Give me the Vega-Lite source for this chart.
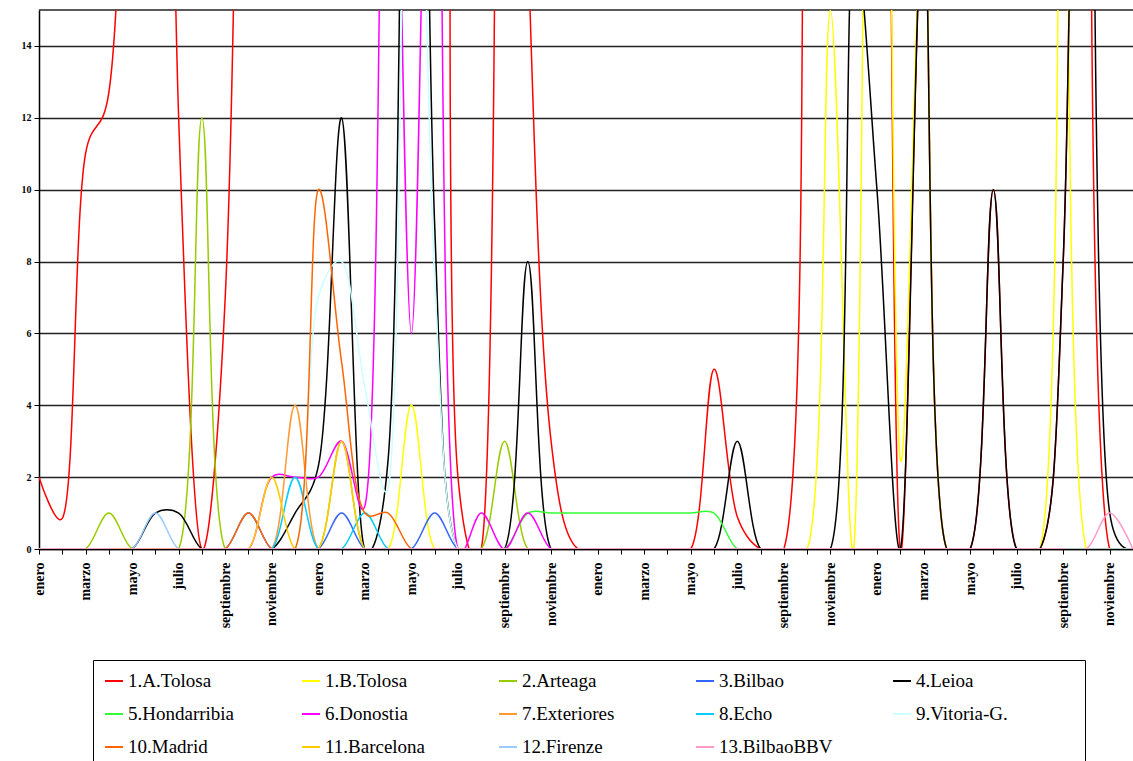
{
"$schema": "https://vega.github.io/schema/vega-lite/v6.json",
"width": 1094, "height": 539,
"autosize": {"type": "none"},
"padding": {"left": 39, "top": 10, "right": 0, "bottom": 212},
"background": "white",
"config": {"view": {"stroke": null}, "font": "Liberation Serif"},
"data": {"values": [
{"s":"1.A.Tolosa","m":0,"v":2},{"s":"1.A.Tolosa","m":1,"v":0.85},{"s":"1.A.Tolosa","m":2,"v":11},{"s":"1.A.Tolosa","m":3,"v":12.7},{"s":"1.A.Tolosa","m":4,"v":30},{"s":"1.A.Tolosa","m":5,"v":45},{"s":"1.A.Tolosa","m":6,"v":12},{"s":"1.A.Tolosa","m":7,"v":0},{"s":"1.A.Tolosa","m":8,"v":7},{"s":"1.A.Tolosa","m":9,"v":40},{"s":"1.A.Tolosa","m":10,"v":60},{"s":"1.A.Tolosa","m":11,"v":60},{"s":"1.A.Tolosa","m":12,"v":60},{"s":"1.A.Tolosa","m":13,"v":60},{"s":"1.A.Tolosa","m":14,"v":60},{"s":"1.A.Tolosa","m":15,"v":60},{"s":"1.A.Tolosa","m":16,"v":60},{"s":"1.A.Tolosa","m":17,"v":60},{"s":"1.A.Tolosa","m":18,"v":2},{"s":"1.A.Tolosa","m":19,"v":0},{"s":"1.A.Tolosa","m":20,"v":50},{"s":"1.A.Tolosa","m":21,"v":17},{"s":"1.A.Tolosa","m":22,"v":3},{"s":"1.A.Tolosa","m":23,"v":0.1},{"s":"1.A.Tolosa","m":24,"v":0},{"s":"1.A.Tolosa","m":25,"v":0},{"s":"1.A.Tolosa","m":26,"v":0},{"s":"1.A.Tolosa","m":27,"v":0},{"s":"1.A.Tolosa","m":28,"v":0},{"s":"1.A.Tolosa","m":29,"v":5},{"s":"1.A.Tolosa","m":30,"v":0.9},{"s":"1.A.Tolosa","m":31,"v":0},{"s":"1.A.Tolosa","m":32,"v":0},{"s":"1.A.Tolosa","m":33,"v":35},{"s":"1.A.Tolosa","m":34,"v":60},{"s":"1.A.Tolosa","m":35,"v":60},{"s":"1.A.Tolosa","m":36,"v":50},{"s":"1.A.Tolosa","m":37,"v":0},{"s":"1.A.Tolosa","m":38,"v":18},{"s":"1.A.Tolosa","m":39,"v":0},{"s":"1.A.Tolosa","m":40,"v":0},{"s":"1.A.Tolosa","m":41,"v":10},{"s":"1.A.Tolosa","m":42,"v":0},{"s":"1.A.Tolosa","m":43,"v":0},{"s":"1.A.Tolosa","m":44,"v":8},{"s":"1.A.Tolosa","m":45,"v":50},{"s":"1.A.Tolosa","m":46,"v":0},{"s":"1.A.Tolosa","m":47,"v":0},
{"s":"1.B.Tolosa","m":0,"v":0},{"s":"1.B.Tolosa","m":1,"v":0},{"s":"1.B.Tolosa","m":2,"v":0},{"s":"1.B.Tolosa","m":3,"v":0},{"s":"1.B.Tolosa","m":4,"v":0},{"s":"1.B.Tolosa","m":5,"v":0},{"s":"1.B.Tolosa","m":6,"v":0},{"s":"1.B.Tolosa","m":7,"v":0},{"s":"1.B.Tolosa","m":8,"v":0},{"s":"1.B.Tolosa","m":9,"v":0},{"s":"1.B.Tolosa","m":10,"v":0},{"s":"1.B.Tolosa","m":11,"v":0},{"s":"1.B.Tolosa","m":12,"v":0},{"s":"1.B.Tolosa","m":13,"v":0},{"s":"1.B.Tolosa","m":14,"v":0},{"s":"1.B.Tolosa","m":15,"v":0},{"s":"1.B.Tolosa","m":16,"v":4},{"s":"1.B.Tolosa","m":17,"v":0},{"s":"1.B.Tolosa","m":18,"v":0},{"s":"1.B.Tolosa","m":19,"v":0},{"s":"1.B.Tolosa","m":20,"v":0},{"s":"1.B.Tolosa","m":21,"v":0},{"s":"1.B.Tolosa","m":22,"v":0},{"s":"1.B.Tolosa","m":23,"v":0},{"s":"1.B.Tolosa","m":24,"v":0},{"s":"1.B.Tolosa","m":25,"v":0},{"s":"1.B.Tolosa","m":26,"v":0},{"s":"1.B.Tolosa","m":27,"v":0},{"s":"1.B.Tolosa","m":28,"v":0},{"s":"1.B.Tolosa","m":29,"v":0},{"s":"1.B.Tolosa","m":30,"v":0},{"s":"1.B.Tolosa","m":31,"v":0},{"s":"1.B.Tolosa","m":32,"v":0},{"s":"1.B.Tolosa","m":33,"v":0},{"s":"1.B.Tolosa","m":34,"v":15},{"s":"1.B.Tolosa","m":35,"v":0},{"s":"1.B.Tolosa","m":36,"v":50},{"s":"1.B.Tolosa","m":37,"v":2.5},{"s":"1.B.Tolosa","m":38,"v":18},{"s":"1.B.Tolosa","m":39,"v":0},{"s":"1.B.Tolosa","m":40,"v":0},{"s":"1.B.Tolosa","m":41,"v":0},{"s":"1.B.Tolosa","m":42,"v":0},{"s":"1.B.Tolosa","m":43,"v":0},{"s":"1.B.Tolosa","m":44,"v":40},{"s":"1.B.Tolosa","m":45,"v":0},{"s":"1.B.Tolosa","m":46,"v":0},{"s":"1.B.Tolosa","m":47,"v":0},
{"s":"2.Arteaga","m":0,"v":0},{"s":"2.Arteaga","m":1,"v":0},{"s":"2.Arteaga","m":2,"v":0},{"s":"2.Arteaga","m":3,"v":1},{"s":"2.Arteaga","m":4,"v":0},{"s":"2.Arteaga","m":5,"v":0},{"s":"2.Arteaga","m":6,"v":0},{"s":"2.Arteaga","m":7,"v":12},{"s":"2.Arteaga","m":8,"v":0},{"s":"2.Arteaga","m":9,"v":0},{"s":"2.Arteaga","m":10,"v":0},{"s":"2.Arteaga","m":11,"v":0},{"s":"2.Arteaga","m":12,"v":0},{"s":"2.Arteaga","m":13,"v":3},{"s":"2.Arteaga","m":14,"v":0},{"s":"2.Arteaga","m":15,"v":0},{"s":"2.Arteaga","m":16,"v":0},{"s":"2.Arteaga","m":17,"v":0},{"s":"2.Arteaga","m":18,"v":0},{"s":"2.Arteaga","m":19,"v":0},{"s":"2.Arteaga","m":20,"v":3},{"s":"2.Arteaga","m":21,"v":0},{"s":"2.Arteaga","m":22,"v":0},{"s":"2.Arteaga","m":23,"v":0},{"s":"2.Arteaga","m":24,"v":0},{"s":"2.Arteaga","m":25,"v":0},{"s":"2.Arteaga","m":26,"v":0},{"s":"2.Arteaga","m":27,"v":0},{"s":"2.Arteaga","m":28,"v":0},{"s":"2.Arteaga","m":29,"v":0},{"s":"2.Arteaga","m":30,"v":0},{"s":"2.Arteaga","m":31,"v":0},{"s":"2.Arteaga","m":32,"v":0},{"s":"2.Arteaga","m":33,"v":0},{"s":"2.Arteaga","m":34,"v":0},{"s":"2.Arteaga","m":35,"v":0},{"s":"2.Arteaga","m":36,"v":0},{"s":"2.Arteaga","m":37,"v":0},{"s":"2.Arteaga","m":38,"v":0},{"s":"2.Arteaga","m":39,"v":0},{"s":"2.Arteaga","m":40,"v":0},{"s":"2.Arteaga","m":41,"v":0},{"s":"2.Arteaga","m":42,"v":0},{"s":"2.Arteaga","m":43,"v":0},{"s":"2.Arteaga","m":44,"v":0},{"s":"2.Arteaga","m":45,"v":0},{"s":"2.Arteaga","m":46,"v":0},{"s":"2.Arteaga","m":47,"v":0},
{"s":"3.Bilbao","m":0,"v":0},{"s":"3.Bilbao","m":1,"v":0},{"s":"3.Bilbao","m":2,"v":0},{"s":"3.Bilbao","m":3,"v":0},{"s":"3.Bilbao","m":4,"v":0},{"s":"3.Bilbao","m":5,"v":0},{"s":"3.Bilbao","m":6,"v":0},{"s":"3.Bilbao","m":7,"v":0},{"s":"3.Bilbao","m":8,"v":0},{"s":"3.Bilbao","m":9,"v":1},{"s":"3.Bilbao","m":10,"v":0},{"s":"3.Bilbao","m":11,"v":0},{"s":"3.Bilbao","m":12,"v":0},{"s":"3.Bilbao","m":13,"v":1},{"s":"3.Bilbao","m":14,"v":0},{"s":"3.Bilbao","m":15,"v":0},{"s":"3.Bilbao","m":16,"v":0},{"s":"3.Bilbao","m":17,"v":1},{"s":"3.Bilbao","m":18,"v":0},{"s":"3.Bilbao","m":19,"v":0},{"s":"3.Bilbao","m":20,"v":0},{"s":"3.Bilbao","m":21,"v":0},{"s":"3.Bilbao","m":22,"v":0},{"s":"3.Bilbao","m":23,"v":0},{"s":"3.Bilbao","m":24,"v":0},{"s":"3.Bilbao","m":25,"v":0},{"s":"3.Bilbao","m":26,"v":0},{"s":"3.Bilbao","m":27,"v":0},{"s":"3.Bilbao","m":28,"v":0},{"s":"3.Bilbao","m":29,"v":0},{"s":"3.Bilbao","m":30,"v":0},{"s":"3.Bilbao","m":31,"v":0},{"s":"3.Bilbao","m":32,"v":0},{"s":"3.Bilbao","m":33,"v":0},{"s":"3.Bilbao","m":34,"v":0},{"s":"3.Bilbao","m":35,"v":0},{"s":"3.Bilbao","m":36,"v":0},{"s":"3.Bilbao","m":37,"v":0},{"s":"3.Bilbao","m":38,"v":0},{"s":"3.Bilbao","m":39,"v":0},{"s":"3.Bilbao","m":40,"v":0},{"s":"3.Bilbao","m":41,"v":0},{"s":"3.Bilbao","m":42,"v":0},{"s":"3.Bilbao","m":43,"v":0},{"s":"3.Bilbao","m":44,"v":0},{"s":"3.Bilbao","m":45,"v":0},{"s":"3.Bilbao","m":46,"v":0},{"s":"3.Bilbao","m":47,"v":0},
{"s":"4.Leioa","m":0,"v":0},{"s":"4.Leioa","m":1,"v":0},{"s":"4.Leioa","m":2,"v":0},{"s":"4.Leioa","m":3,"v":0},{"s":"4.Leioa","m":4,"v":0},{"s":"4.Leioa","m":5,"v":1},{"s":"4.Leioa","m":6,"v":1},{"s":"4.Leioa","m":7,"v":0},{"s":"4.Leioa","m":8,"v":0},{"s":"4.Leioa","m":9,"v":0},{"s":"4.Leioa","m":10,"v":0},{"s":"4.Leioa","m":11,"v":1},{"s":"4.Leioa","m":12,"v":2.3},{"s":"4.Leioa","m":13,"v":12},{"s":"4.Leioa","m":14,"v":0},{"s":"4.Leioa","m":15,"v":2.5},{"s":"4.Leioa","m":16,"v":50},{"s":"4.Leioa","m":17,"v":9},{"s":"4.Leioa","m":18,"v":0},{"s":"4.Leioa","m":19,"v":0},{"s":"4.Leioa","m":20,"v":0},{"s":"4.Leioa","m":21,"v":8},{"s":"4.Leioa","m":22,"v":0},{"s":"4.Leioa","m":23,"v":0},{"s":"4.Leioa","m":24,"v":0},{"s":"4.Leioa","m":25,"v":0},{"s":"4.Leioa","m":26,"v":0},{"s":"4.Leioa","m":27,"v":0},{"s":"4.Leioa","m":28,"v":0},{"s":"4.Leioa","m":29,"v":0},{"s":"4.Leioa","m":30,"v":3},{"s":"4.Leioa","m":31,"v":0},{"s":"4.Leioa","m":32,"v":0},{"s":"4.Leioa","m":33,"v":0},{"s":"4.Leioa","m":34,"v":0},{"s":"4.Leioa","m":35,"v":17},{"s":"4.Leioa","m":36,"v":10},{"s":"4.Leioa","m":37,"v":0},{"s":"4.Leioa","m":38,"v":18},{"s":"4.Leioa","m":39,"v":0},{"s":"4.Leioa","m":40,"v":0},{"s":"4.Leioa","m":41,"v":10},{"s":"4.Leioa","m":42,"v":0},{"s":"4.Leioa","m":43,"v":0},{"s":"4.Leioa","m":44,"v":8},{"s":"4.Leioa","m":45,"v":50},{"s":"4.Leioa","m":46,"v":1},{"s":"4.Leioa","m":47,"v":0},
{"s":"5.Hondarribia","m":0,"v":0},{"s":"5.Hondarribia","m":1,"v":0},{"s":"5.Hondarribia","m":2,"v":0},{"s":"5.Hondarribia","m":3,"v":0},{"s":"5.Hondarribia","m":4,"v":0},{"s":"5.Hondarribia","m":5,"v":0},{"s":"5.Hondarribia","m":6,"v":0},{"s":"5.Hondarribia","m":7,"v":0},{"s":"5.Hondarribia","m":8,"v":0},{"s":"5.Hondarribia","m":9,"v":0},{"s":"5.Hondarribia","m":10,"v":0},{"s":"5.Hondarribia","m":11,"v":0},{"s":"5.Hondarribia","m":12,"v":0},{"s":"5.Hondarribia","m":13,"v":0},{"s":"5.Hondarribia","m":14,"v":0},{"s":"5.Hondarribia","m":15,"v":0},{"s":"5.Hondarribia","m":16,"v":0},{"s":"5.Hondarribia","m":17,"v":0},{"s":"5.Hondarribia","m":18,"v":0},{"s":"5.Hondarribia","m":19,"v":0},{"s":"5.Hondarribia","m":20,"v":0},{"s":"5.Hondarribia","m":21,"v":1},{"s":"5.Hondarribia","m":22,"v":1},{"s":"5.Hondarribia","m":23,"v":1},{"s":"5.Hondarribia","m":24,"v":1},{"s":"5.Hondarribia","m":25,"v":1},{"s":"5.Hondarribia","m":26,"v":1},{"s":"5.Hondarribia","m":27,"v":1},{"s":"5.Hondarribia","m":28,"v":1},{"s":"5.Hondarribia","m":29,"v":1},{"s":"5.Hondarribia","m":30,"v":0},{"s":"5.Hondarribia","m":31,"v":0},{"s":"5.Hondarribia","m":32,"v":0},{"s":"5.Hondarribia","m":33,"v":0},{"s":"5.Hondarribia","m":34,"v":0},{"s":"5.Hondarribia","m":35,"v":0},{"s":"5.Hondarribia","m":36,"v":0},{"s":"5.Hondarribia","m":37,"v":0},{"s":"5.Hondarribia","m":38,"v":0},{"s":"5.Hondarribia","m":39,"v":0},{"s":"5.Hondarribia","m":40,"v":0},{"s":"5.Hondarribia","m":41,"v":0},{"s":"5.Hondarribia","m":42,"v":0},{"s":"5.Hondarribia","m":43,"v":0},{"s":"5.Hondarribia","m":44,"v":0},{"s":"5.Hondarribia","m":45,"v":0},{"s":"5.Hondarribia","m":46,"v":0},{"s":"5.Hondarribia","m":47,"v":0},
{"s":"6.Donostia","m":0,"v":0},{"s":"6.Donostia","m":1,"v":0},{"s":"6.Donostia","m":2,"v":0},{"s":"6.Donostia","m":3,"v":0},{"s":"6.Donostia","m":4,"v":0},{"s":"6.Donostia","m":5,"v":0},{"s":"6.Donostia","m":6,"v":0},{"s":"6.Donostia","m":7,"v":0},{"s":"6.Donostia","m":8,"v":0},{"s":"6.Donostia","m":9,"v":0},{"s":"6.Donostia","m":10,"v":2},{"s":"6.Donostia","m":11,"v":2},{"s":"6.Donostia","m":12,"v":2},{"s":"6.Donostia","m":13,"v":3},{"s":"6.Donostia","m":14,"v":1.2},{"s":"6.Donostia","m":15,"v":30},{"s":"6.Donostia","m":16,"v":6},{"s":"6.Donostia","m":17,"v":30},{"s":"6.Donostia","m":18,"v":0},{"s":"6.Donostia","m":19,"v":1},{"s":"6.Donostia","m":20,"v":0},{"s":"6.Donostia","m":21,"v":1},{"s":"6.Donostia","m":22,"v":0},{"s":"6.Donostia","m":23,"v":0},{"s":"6.Donostia","m":24,"v":0},{"s":"6.Donostia","m":25,"v":0},{"s":"6.Donostia","m":26,"v":0},{"s":"6.Donostia","m":27,"v":0},{"s":"6.Donostia","m":28,"v":0},{"s":"6.Donostia","m":29,"v":0},{"s":"6.Donostia","m":30,"v":0},{"s":"6.Donostia","m":31,"v":0},{"s":"6.Donostia","m":32,"v":0},{"s":"6.Donostia","m":33,"v":0},{"s":"6.Donostia","m":34,"v":0},{"s":"6.Donostia","m":35,"v":0},{"s":"6.Donostia","m":36,"v":0},{"s":"6.Donostia","m":37,"v":0},{"s":"6.Donostia","m":38,"v":0},{"s":"6.Donostia","m":39,"v":0},{"s":"6.Donostia","m":40,"v":0},{"s":"6.Donostia","m":41,"v":0},{"s":"6.Donostia","m":42,"v":0},{"s":"6.Donostia","m":43,"v":0},{"s":"6.Donostia","m":44,"v":0},{"s":"6.Donostia","m":45,"v":0},{"s":"6.Donostia","m":46,"v":0},{"s":"6.Donostia","m":47,"v":0},
{"s":"7.Exteriores","m":0,"v":0},{"s":"7.Exteriores","m":1,"v":0},{"s":"7.Exteriores","m":2,"v":0},{"s":"7.Exteriores","m":3,"v":0},{"s":"7.Exteriores","m":4,"v":0},{"s":"7.Exteriores","m":5,"v":0},{"s":"7.Exteriores","m":6,"v":0},{"s":"7.Exteriores","m":7,"v":0},{"s":"7.Exteriores","m":8,"v":0},{"s":"7.Exteriores","m":9,"v":0},{"s":"7.Exteriores","m":10,"v":0},{"s":"7.Exteriores","m":11,"v":4},{"s":"7.Exteriores","m":12,"v":0},{"s":"7.Exteriores","m":13,"v":0},{"s":"7.Exteriores","m":14,"v":0},{"s":"7.Exteriores","m":15,"v":0},{"s":"7.Exteriores","m":16,"v":0},{"s":"7.Exteriores","m":17,"v":0},{"s":"7.Exteriores","m":18,"v":0},{"s":"7.Exteriores","m":19,"v":0},{"s":"7.Exteriores","m":20,"v":0},{"s":"7.Exteriores","m":21,"v":0},{"s":"7.Exteriores","m":22,"v":0},{"s":"7.Exteriores","m":23,"v":0},{"s":"7.Exteriores","m":24,"v":0},{"s":"7.Exteriores","m":25,"v":0},{"s":"7.Exteriores","m":26,"v":0},{"s":"7.Exteriores","m":27,"v":0},{"s":"7.Exteriores","m":28,"v":0},{"s":"7.Exteriores","m":29,"v":0},{"s":"7.Exteriores","m":30,"v":0},{"s":"7.Exteriores","m":31,"v":0},{"s":"7.Exteriores","m":32,"v":0},{"s":"7.Exteriores","m":33,"v":0},{"s":"7.Exteriores","m":34,"v":0},{"s":"7.Exteriores","m":35,"v":0},{"s":"7.Exteriores","m":36,"v":0},{"s":"7.Exteriores","m":37,"v":0},{"s":"7.Exteriores","m":38,"v":0},{"s":"7.Exteriores","m":39,"v":0},{"s":"7.Exteriores","m":40,"v":0},{"s":"7.Exteriores","m":41,"v":0},{"s":"7.Exteriores","m":42,"v":0},{"s":"7.Exteriores","m":43,"v":0},{"s":"7.Exteriores","m":44,"v":0},{"s":"7.Exteriores","m":45,"v":0},{"s":"7.Exteriores","m":46,"v":0},{"s":"7.Exteriores","m":47,"v":0},
{"s":"8.Echo","m":0,"v":0},{"s":"8.Echo","m":1,"v":0},{"s":"8.Echo","m":2,"v":0},{"s":"8.Echo","m":3,"v":0},{"s":"8.Echo","m":4,"v":0},{"s":"8.Echo","m":5,"v":0},{"s":"8.Echo","m":6,"v":0},{"s":"8.Echo","m":7,"v":0},{"s":"8.Echo","m":8,"v":0},{"s":"8.Echo","m":9,"v":0},{"s":"8.Echo","m":10,"v":0},{"s":"8.Echo","m":11,"v":2},{"s":"8.Echo","m":12,"v":0},{"s":"8.Echo","m":13,"v":0},{"s":"8.Echo","m":14,"v":1},{"s":"8.Echo","m":15,"v":0},{"s":"8.Echo","m":16,"v":0},{"s":"8.Echo","m":17,"v":0},{"s":"8.Echo","m":18,"v":0},{"s":"8.Echo","m":19,"v":0},{"s":"8.Echo","m":20,"v":0},{"s":"8.Echo","m":21,"v":0},{"s":"8.Echo","m":22,"v":0},{"s":"8.Echo","m":23,"v":0},{"s":"8.Echo","m":24,"v":0},{"s":"8.Echo","m":25,"v":0},{"s":"8.Echo","m":26,"v":0},{"s":"8.Echo","m":27,"v":0},{"s":"8.Echo","m":28,"v":0},{"s":"8.Echo","m":29,"v":0},{"s":"8.Echo","m":30,"v":0},{"s":"8.Echo","m":31,"v":0},{"s":"8.Echo","m":32,"v":0},{"s":"8.Echo","m":33,"v":0},{"s":"8.Echo","m":34,"v":0},{"s":"8.Echo","m":35,"v":0},{"s":"8.Echo","m":36,"v":0},{"s":"8.Echo","m":37,"v":0},{"s":"8.Echo","m":38,"v":0},{"s":"8.Echo","m":39,"v":0},{"s":"8.Echo","m":40,"v":0},{"s":"8.Echo","m":41,"v":0},{"s":"8.Echo","m":42,"v":0},{"s":"8.Echo","m":43,"v":0},{"s":"8.Echo","m":44,"v":0},{"s":"8.Echo","m":45,"v":0},{"s":"8.Echo","m":46,"v":0},{"s":"8.Echo","m":47,"v":0},
{"s":"9.Vitoria-G.","m":0,"v":0},{"s":"9.Vitoria-G.","m":1,"v":0},{"s":"9.Vitoria-G.","m":2,"v":0},{"s":"9.Vitoria-G.","m":3,"v":0},{"s":"9.Vitoria-G.","m":4,"v":0},{"s":"9.Vitoria-G.","m":5,"v":0},{"s":"9.Vitoria-G.","m":6,"v":0},{"s":"9.Vitoria-G.","m":7,"v":0},{"s":"9.Vitoria-G.","m":8,"v":0},{"s":"9.Vitoria-G.","m":9,"v":0},{"s":"9.Vitoria-G.","m":10,"v":0},{"s":"9.Vitoria-G.","m":11,"v":0},{"s":"9.Vitoria-G.","m":12,"v":7},{"s":"9.Vitoria-G.","m":13,"v":8},{"s":"9.Vitoria-G.","m":14,"v":4.5},{"s":"9.Vitoria-G.","m":15,"v":1.7},{"s":"9.Vitoria-G.","m":16,"v":30},{"s":"9.Vitoria-G.","m":17,"v":7.5},{"s":"9.Vitoria-G.","m":18,"v":0},{"s":"9.Vitoria-G.","m":19,"v":0},{"s":"9.Vitoria-G.","m":20,"v":0},{"s":"9.Vitoria-G.","m":21,"v":0},{"s":"9.Vitoria-G.","m":22,"v":0},{"s":"9.Vitoria-G.","m":23,"v":0},{"s":"9.Vitoria-G.","m":24,"v":0},{"s":"9.Vitoria-G.","m":25,"v":0},{"s":"9.Vitoria-G.","m":26,"v":0},{"s":"9.Vitoria-G.","m":27,"v":0},{"s":"9.Vitoria-G.","m":28,"v":0},{"s":"9.Vitoria-G.","m":29,"v":0},{"s":"9.Vitoria-G.","m":30,"v":0},{"s":"9.Vitoria-G.","m":31,"v":0},{"s":"9.Vitoria-G.","m":32,"v":0},{"s":"9.Vitoria-G.","m":33,"v":0},{"s":"9.Vitoria-G.","m":34,"v":0},{"s":"9.Vitoria-G.","m":35,"v":0},{"s":"9.Vitoria-G.","m":36,"v":0},{"s":"9.Vitoria-G.","m":37,"v":0},{"s":"9.Vitoria-G.","m":38,"v":0},{"s":"9.Vitoria-G.","m":39,"v":0},{"s":"9.Vitoria-G.","m":40,"v":0},{"s":"9.Vitoria-G.","m":41,"v":0},{"s":"9.Vitoria-G.","m":42,"v":0},{"s":"9.Vitoria-G.","m":43,"v":0},{"s":"9.Vitoria-G.","m":44,"v":0},{"s":"9.Vitoria-G.","m":45,"v":0},{"s":"9.Vitoria-G.","m":46,"v":0},{"s":"9.Vitoria-G.","m":47,"v":0},
{"s":"10.Madrid","m":0,"v":0},{"s":"10.Madrid","m":1,"v":0},{"s":"10.Madrid","m":2,"v":0},{"s":"10.Madrid","m":3,"v":0},{"s":"10.Madrid","m":4,"v":0},{"s":"10.Madrid","m":5,"v":0},{"s":"10.Madrid","m":6,"v":0},{"s":"10.Madrid","m":7,"v":0},{"s":"10.Madrid","m":8,"v":0},{"s":"10.Madrid","m":9,"v":1},{"s":"10.Madrid","m":10,"v":0},{"s":"10.Madrid","m":11,"v":0},{"s":"10.Madrid","m":12,"v":10},{"s":"10.Madrid","m":13,"v":5.2},{"s":"10.Madrid","m":14,"v":1},{"s":"10.Madrid","m":15,"v":1},{"s":"10.Madrid","m":16,"v":0},{"s":"10.Madrid","m":17,"v":0},{"s":"10.Madrid","m":18,"v":0},{"s":"10.Madrid","m":19,"v":0},{"s":"10.Madrid","m":20,"v":0},{"s":"10.Madrid","m":21,"v":0},{"s":"10.Madrid","m":22,"v":0},{"s":"10.Madrid","m":23,"v":0},{"s":"10.Madrid","m":24,"v":0},{"s":"10.Madrid","m":25,"v":0},{"s":"10.Madrid","m":26,"v":0},{"s":"10.Madrid","m":27,"v":0},{"s":"10.Madrid","m":28,"v":0},{"s":"10.Madrid","m":29,"v":0},{"s":"10.Madrid","m":30,"v":0},{"s":"10.Madrid","m":31,"v":0},{"s":"10.Madrid","m":32,"v":0},{"s":"10.Madrid","m":33,"v":0},{"s":"10.Madrid","m":34,"v":0},{"s":"10.Madrid","m":35,"v":0},{"s":"10.Madrid","m":36,"v":0},{"s":"10.Madrid","m":37,"v":0},{"s":"10.Madrid","m":38,"v":0},{"s":"10.Madrid","m":39,"v":0},{"s":"10.Madrid","m":40,"v":0},{"s":"10.Madrid","m":41,"v":0},{"s":"10.Madrid","m":42,"v":0},{"s":"10.Madrid","m":43,"v":0},{"s":"10.Madrid","m":44,"v":0},{"s":"10.Madrid","m":45,"v":0},{"s":"10.Madrid","m":46,"v":0},{"s":"10.Madrid","m":47,"v":0},
{"s":"11.Barcelona","m":0,"v":0},{"s":"11.Barcelona","m":1,"v":0},{"s":"11.Barcelona","m":2,"v":0},{"s":"11.Barcelona","m":3,"v":0},{"s":"11.Barcelona","m":4,"v":0},{"s":"11.Barcelona","m":5,"v":0},{"s":"11.Barcelona","m":6,"v":0},{"s":"11.Barcelona","m":7,"v":0},{"s":"11.Barcelona","m":8,"v":0},{"s":"11.Barcelona","m":9,"v":0},{"s":"11.Barcelona","m":10,"v":2},{"s":"11.Barcelona","m":11,"v":0},{"s":"11.Barcelona","m":12,"v":0},{"s":"11.Barcelona","m":13,"v":3},{"s":"11.Barcelona","m":14,"v":0},{"s":"11.Barcelona","m":15,"v":0},{"s":"11.Barcelona","m":16,"v":0},{"s":"11.Barcelona","m":17,"v":0},{"s":"11.Barcelona","m":18,"v":0},{"s":"11.Barcelona","m":19,"v":0},{"s":"11.Barcelona","m":20,"v":0},{"s":"11.Barcelona","m":21,"v":0},{"s":"11.Barcelona","m":22,"v":0},{"s":"11.Barcelona","m":23,"v":0},{"s":"11.Barcelona","m":24,"v":0},{"s":"11.Barcelona","m":25,"v":0},{"s":"11.Barcelona","m":26,"v":0},{"s":"11.Barcelona","m":27,"v":0},{"s":"11.Barcelona","m":28,"v":0},{"s":"11.Barcelona","m":29,"v":0},{"s":"11.Barcelona","m":30,"v":0},{"s":"11.Barcelona","m":31,"v":0},{"s":"11.Barcelona","m":32,"v":0},{"s":"11.Barcelona","m":33,"v":0},{"s":"11.Barcelona","m":34,"v":0},{"s":"11.Barcelona","m":35,"v":0},{"s":"11.Barcelona","m":36,"v":0},{"s":"11.Barcelona","m":37,"v":0},{"s":"11.Barcelona","m":38,"v":0},{"s":"11.Barcelona","m":39,"v":0},{"s":"11.Barcelona","m":40,"v":0},{"s":"11.Barcelona","m":41,"v":0},{"s":"11.Barcelona","m":42,"v":0},{"s":"11.Barcelona","m":43,"v":0},{"s":"11.Barcelona","m":44,"v":0},{"s":"11.Barcelona","m":45,"v":0},{"s":"11.Barcelona","m":46,"v":0},{"s":"11.Barcelona","m":47,"v":0},
{"s":"12.Firenze","m":0,"v":0},{"s":"12.Firenze","m":1,"v":0},{"s":"12.Firenze","m":2,"v":0},{"s":"12.Firenze","m":3,"v":0},{"s":"12.Firenze","m":4,"v":0},{"s":"12.Firenze","m":5,"v":1},{"s":"12.Firenze","m":6,"v":0},{"s":"12.Firenze","m":7,"v":0},{"s":"12.Firenze","m":8,"v":0},{"s":"12.Firenze","m":9,"v":0},{"s":"12.Firenze","m":10,"v":0},{"s":"12.Firenze","m":11,"v":0},{"s":"12.Firenze","m":12,"v":0},{"s":"12.Firenze","m":13,"v":0},{"s":"12.Firenze","m":14,"v":0},{"s":"12.Firenze","m":15,"v":0},{"s":"12.Firenze","m":16,"v":0},{"s":"12.Firenze","m":17,"v":0},{"s":"12.Firenze","m":18,"v":0},{"s":"12.Firenze","m":19,"v":0},{"s":"12.Firenze","m":20,"v":0},{"s":"12.Firenze","m":21,"v":0},{"s":"12.Firenze","m":22,"v":0},{"s":"12.Firenze","m":23,"v":0},{"s":"12.Firenze","m":24,"v":0},{"s":"12.Firenze","m":25,"v":0},{"s":"12.Firenze","m":26,"v":0},{"s":"12.Firenze","m":27,"v":0},{"s":"12.Firenze","m":28,"v":0},{"s":"12.Firenze","m":29,"v":0},{"s":"12.Firenze","m":30,"v":0},{"s":"12.Firenze","m":31,"v":0},{"s":"12.Firenze","m":32,"v":0},{"s":"12.Firenze","m":33,"v":0},{"s":"12.Firenze","m":34,"v":0},{"s":"12.Firenze","m":35,"v":0},{"s":"12.Firenze","m":36,"v":0},{"s":"12.Firenze","m":37,"v":0},{"s":"12.Firenze","m":38,"v":0},{"s":"12.Firenze","m":39,"v":0},{"s":"12.Firenze","m":40,"v":0},{"s":"12.Firenze","m":41,"v":0},{"s":"12.Firenze","m":42,"v":0},{"s":"12.Firenze","m":43,"v":0},{"s":"12.Firenze","m":44,"v":0},{"s":"12.Firenze","m":45,"v":0},{"s":"12.Firenze","m":46,"v":0},{"s":"12.Firenze","m":47,"v":0},
{"s":"13.BilbaoBBV","m":0,"v":0},{"s":"13.BilbaoBBV","m":1,"v":0},{"s":"13.BilbaoBBV","m":2,"v":0},{"s":"13.BilbaoBBV","m":3,"v":0},{"s":"13.BilbaoBBV","m":4,"v":0},{"s":"13.BilbaoBBV","m":5,"v":0},{"s":"13.BilbaoBBV","m":6,"v":0},{"s":"13.BilbaoBBV","m":7,"v":0},{"s":"13.BilbaoBBV","m":8,"v":0},{"s":"13.BilbaoBBV","m":9,"v":0},{"s":"13.BilbaoBBV","m":10,"v":0},{"s":"13.BilbaoBBV","m":11,"v":0},{"s":"13.BilbaoBBV","m":12,"v":0},{"s":"13.BilbaoBBV","m":13,"v":0},{"s":"13.BilbaoBBV","m":14,"v":0},{"s":"13.BilbaoBBV","m":15,"v":0},{"s":"13.BilbaoBBV","m":16,"v":0},{"s":"13.BilbaoBBV","m":17,"v":0},{"s":"13.BilbaoBBV","m":18,"v":0},{"s":"13.BilbaoBBV","m":19,"v":0},{"s":"13.BilbaoBBV","m":20,"v":0},{"s":"13.BilbaoBBV","m":21,"v":0},{"s":"13.BilbaoBBV","m":22,"v":0},{"s":"13.BilbaoBBV","m":23,"v":0},{"s":"13.BilbaoBBV","m":24,"v":0},{"s":"13.BilbaoBBV","m":25,"v":0},{"s":"13.BilbaoBBV","m":26,"v":0},{"s":"13.BilbaoBBV","m":27,"v":0},{"s":"13.BilbaoBBV","m":28,"v":0},{"s":"13.BilbaoBBV","m":29,"v":0},{"s":"13.BilbaoBBV","m":30,"v":0},{"s":"13.BilbaoBBV","m":31,"v":0},{"s":"13.BilbaoBBV","m":32,"v":0},{"s":"13.BilbaoBBV","m":33,"v":0},{"s":"13.BilbaoBBV","m":34,"v":0},{"s":"13.BilbaoBBV","m":35,"v":0},{"s":"13.BilbaoBBV","m":36,"v":0},{"s":"13.BilbaoBBV","m":37,"v":0},{"s":"13.BilbaoBBV","m":38,"v":0},{"s":"13.BilbaoBBV","m":39,"v":0},{"s":"13.BilbaoBBV","m":40,"v":0},{"s":"13.BilbaoBBV","m":41,"v":0},{"s":"13.BilbaoBBV","m":42,"v":0},{"s":"13.BilbaoBBV","m":43,"v":0},{"s":"13.BilbaoBBV","m":44,"v":0},{"s":"13.BilbaoBBV","m":45,"v":0},{"s":"13.BilbaoBBV","m":46,"v":1},{"s":"13.BilbaoBBV","m":47,"v":0}
]},
"layer": [
{
"data": {"values": [{}]},
"mark": {"type": "rule", "color": "#222", "strokeWidth": 1.5},
"encoding": {"y": {"datum": 15, "type": "quantitative"}}
},
{
"mark": {"type": "line", "interpolate": "catmull-rom", "tension": 0.35, "strokeWidth": 1.5, "clip": true},
"encoding": {
"x": {"field": "m", "type": "quantitative",
 "scale": {"domain": [0, 47], "nice": false, "zero": false},
 "axis": {"title": null, "grid": false, "values": [0,1,2,3,4,5,6,7,8,9,10,11,12,13,14,15,16,17,18,19,20,21,22,23,24,25,26,27,28,29,30,31,32,33,34,35,36,37,38,39,40,41,42,43,44,45,46,47],
  "labelExpr": "datum.value % 2 == 0 ? ['enero','febrero','marzo','abril','mayo','junio','julio','agosto','septiembre','octubre','noviembre','diciembre'][datum.value % 12] : ''",
  "labelAngle": -90, "labelOverlap": false, "labelBound": false, "labelFlush": false,
  "labelFont": "Liberation Serif", "labelFontWeight": "bold", "labelFontSize": 14, "labelColor": "#000",
  "labelPadding": 8, "tickSize": 5, "tickColor": "#000", "domainColor": "#000", "domainWidth": 1.5}},
"y": {"field": "v", "type": "quantitative",
 "scale": {"domain": [0, 15], "nice": false, "zero": true},
 "axis": {"title": null, "values": [0,2,4,6,8,10,12,14], "grid": true, "gridColor": "#222", "gridWidth": 1.5,
  "domainColor": "#000", "domainWidth": 1.5, "tickColor": "#000", "tickSize": 5,
  "labelFont": "Liberation Serif", "labelFontWeight": "bold", "labelFontSize": 10, "labelColor": "#000", "labelPadding": 3}},
"color": {"field": "s", "type": "nominal",
 "scale": {"domain": ["1.A.Tolosa","1.B.Tolosa","2.Arteaga","3.Bilbao","4.Leioa","5.Hondarribia","6.Donostia","7.Exteriores","8.Echo","9.Vitoria-G.","10.Madrid","11.Barcelona","12.Firenze","13.BilbaoBBV"],
  "range": ["#FF0000","#FFFF00","#99CC00","#3366FF","#000000","#33FF33","#FF00FF","#FF9933","#00CCFF","#CCFFFF","#FF6600","#FFCC00","#99CCFF","#FF99CC"]},
 "legend": {"orient": "none", "legendX": 54, "legendY": 650, "columns": 5, "title": "\u00a0", "titleOrient": "right", "titlePadding": 66, "titleFontSize": 10, "direction": "horizontal",
  "symbolType": "stroke", "symbolStrokeWidth": 2, "symbolSize": 324,
  "labelFont": "Liberation Serif", "labelFontSize": 19, "labelColor": "#000", "labelOffset": 4, "labelLimit": 220,
  "strokeColor": "#000", "fillColor": "#fff", "padding": 11, "rowPadding": 13, "columnPadding": 56, "gridAlign": "all"}}
}
}
]
}
